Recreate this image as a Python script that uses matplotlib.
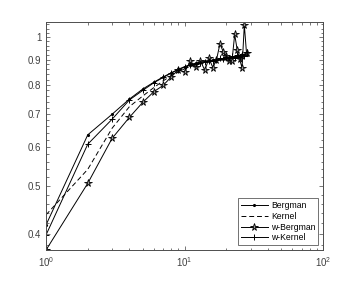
import numpy as np
import matplotlib
matplotlib.use("Agg")
import matplotlib.pyplot as plt
from matplotlib.ticker import FixedLocator, FixedFormatter, LogLocator, NullFormatter

# iterations
n = list(range(1, 29))

bergman = [0.417, 0.634, 0.698, 0.749, 0.785, 0.810, 0.830, 0.846, 0.860, 0.871,
           0.879, 0.885, 0.889, 0.892, 0.895, 0.897, 0.899, 0.902, 0.904, 0.906,
           0.908, 0.910, 0.912, 0.914, 0.915, 0.917, 0.918, 0.920]
kernel = [0.437, 0.540, 0.654, 0.723, 0.760, 0.790, 0.815, 0.835, 0.850, 0.862,
          0.872, 0.879, 0.885, 0.889, 0.892, 0.895, 0.897, 0.900, 0.902, 0.904,
          0.906, 0.908, 0.909, 0.911, 0.912, 0.913, 0.914, 0.915]
w_bergman = [0.371, 0.506, 0.624, 0.688, 0.738, 0.775, 0.798, 0.830, 0.858, 0.850,
             0.892, 0.871, 0.896, 0.856, 0.906, 0.867, 0.899, 0.968, 0.934, 0.915,
             0.892, 0.894, 1.012, 0.941, 0.901, 0.866, 1.058, 0.927]
w_kernel = [0.398, 0.607, 0.682, 0.746, 0.780, 0.808, 0.828, 0.845, 0.858, 0.869,
            0.877, 0.883, 0.887, 0.891, 0.894, 0.896, 0.899, 0.905, 0.902, 0.910,
            0.907, 0.913, 0.908, 0.918, 0.912, 0.925, 0.915, 0.932]

ytick_vals = [0.4, 0.5, 0.6, 0.7, 0.8, 0.9, 1.0]
ytick_labels = ["0.4", "0.5", "0.6", "0.7", "0.8", "0.9", "1"]

plt.rcParams['font.family'] = ['Liberation Sans', 'DejaVu Sans']
plt.rcParams['mathtext.fontset'] = 'custom'
plt.rcParams['mathtext.rm'] = 'Liberation Sans'

fig = plt.figure(figsize=(3.57, 2.82), dpi=100)
ax = fig.add_axes([0.129, 0.1135, 0.776, 0.8085])

lw = 0.7
ax.plot(n, bergman, color='k', lw=lw, marker='.', ms=2.5, label='Bergman')
ax.plot(n, kernel, color='k', lw=lw, ls=(0, (5, 3)), label='Kernel')
ax.plot(n, w_bergman, color='k', lw=lw, marker='*', ms=5.5, mfc='0.6', mec='k',
        mew=0.6, label='w-Bergman')
ax.plot(n, w_kernel, color='k', lw=lw, marker='+', ms=4.5, mew=0.7, label='w-Kernel')

ax.set_xscale('log')
ax.set_yscale('log')
ax.set_xlim(1, 100)
ax.set_ylim(0.371, 1.072)

ax.yaxis.set_major_locator(FixedLocator(ytick_vals))
ax.yaxis.set_major_formatter(FixedFormatter(ytick_labels))
ax.yaxis.set_minor_locator(FixedLocator(np.arange(0.38, 1.07, 0.02)))
ax.yaxis.set_minor_formatter(NullFormatter())
ax.xaxis.set_major_locator(FixedLocator([1, 10, 100]))
ax.set_xticklabels([r'$10^0$', r'$10^1$', r'$10^2$'])
ax.xaxis.set_minor_locator(LogLocator(base=10, subs=np.arange(2, 10)))
ax.xaxis.set_minor_formatter(NullFormatter())

ax.tick_params(which='both', direction='in', top=True, right=True,
               labelsize=7, colors='0.25', width=0.5)
ax.tick_params(which='major', length=3)
ax.tick_params(which='minor', length=1.8)
for s in ax.spines.values():
    s.set_linewidth(0.7)
    s.set_color('0.3')

leg = ax.legend(loc='lower right', fontsize=6.2, frameon=True, fancybox=False,
                edgecolor='0.3', handlelength=3.2, borderpad=0.3,
                labelspacing=0.2, handletextpad=0.3, borderaxespad=0.6)
leg.get_frame().set_linewidth(0.7)

fig.savefig('out.png', dpi=100)
